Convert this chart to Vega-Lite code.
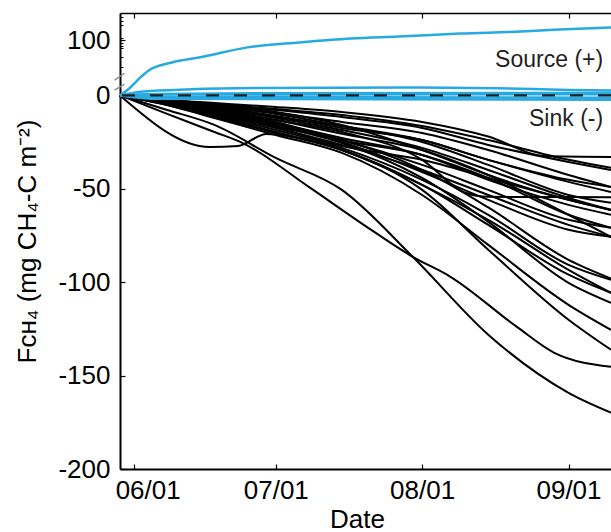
{
  "$schema": "https://vega.github.io/schema/vega-lite/v6.json",
  "width": 491,
  "height": 456,
  "autosize": {"type": "none"},
  "padding": {"left": 120, "top": 13, "right": 0, "bottom": 63},
  "config": {
    "font": "Liberation Sans",
    "view": {"stroke": null},
    "axis": {"domainColor": "#000", "domainWidth": 2, "tickColor": "#000", "tickWidth": 1.2, "labelColor": "#000", "titleColor": "#000", "grid": false, "labelFontSize": 26, "titleFontSize": 26, "titleFontWeight": "normal", "labelFont": "Liberation Sans", "titleFont": "Liberation Sans"}
  },
  "resolve": {"axis": {"x": "independent", "y": "independent"}},
  "datasets": {
    "black": [
      {"id":1,"date":"2014-05-29","v":0},{"id":1,"date":"2014-06-08","v":-2.5},{"id":1,"date":"2014-06-18","v":-4.1},{"id":1,"date":"2014-07-01","v":-6.2},{"id":1,"date":"2014-07-15","v":-8.9},{"id":1,"date":"2014-08-01","v":-14.2},{"id":1,"date":"2014-08-15","v":-22},{"id":1,"date":"2014-08-27","v":-32.5},{"id":1,"date":"2014-09-10","v":-33},
      {"id":2,"date":"2014-05-29","v":0},{"id":2,"date":"2014-06-08","v":-2.5},{"id":2,"date":"2014-06-18","v":-4.6},{"id":2,"date":"2014-07-01","v":-7.3},{"id":2,"date":"2014-07-15","v":-10.5},{"id":2,"date":"2014-08-01","v":-16.4},{"id":2,"date":"2014-08-15","v":-23.9},{"id":2,"date":"2014-09-01","v":-34.5},{"id":2,"date":"2014-09-10","v":-38.8},
      {"id":3,"date":"2014-05-29","v":0},{"id":3,"date":"2014-06-08","v":-3.0},{"id":3,"date":"2014-06-18","v":-5.7},{"id":3,"date":"2014-07-01","v":-9.4},{"id":3,"date":"2014-07-15","v":-14.2},{"id":3,"date":"2014-08-01","v":-20.1},{"id":3,"date":"2014-08-15","v":-29.2},{"id":3,"date":"2014-09-01","v":-42.6},{"id":3,"date":"2014-09-10","v":-49.0},
      {"id":4,"date":"2014-05-29","v":0},{"id":4,"date":"2014-06-08","v":-3.5},{"id":4,"date":"2014-06-18","v":-6.7},{"id":4,"date":"2014-07-01","v":-11.6},{"id":4,"date":"2014-07-15","v":-16.4},{"id":4,"date":"2014-08-01","v":-23.9},{"id":4,"date":"2014-08-15","v":-34.5},{"id":4,"date":"2014-09-01","v":-46.3},{"id":4,"date":"2014-09-10","v":-51.7},
      {"id":5,"date":"2014-05-29","v":0},{"id":5,"date":"2014-06-08","v":-4.1},{"id":5,"date":"2014-06-18","v":-7.8},{"id":5,"date":"2014-07-01","v":-13.2},{"id":5,"date":"2014-07-15","v":-19.6},{"id":5,"date":"2014-08-01","v":-34.5},{"id":5,"date":"2014-08-10","v":-52},{"id":5,"date":"2014-08-15","v":-54.3},{"id":5,"date":"2014-09-10","v":-54.5},
      {"id":6,"date":"2014-05-29","v":0},{"id":6,"date":"2014-06-08","v":-3.0},{"id":6,"date":"2014-06-18","v":-5.1},{"id":6,"date":"2014-07-01","v":-8.9},{"id":6,"date":"2014-07-15","v":-15.8},{"id":6,"date":"2014-08-01","v":-29.2},{"id":6,"date":"2014-08-15","v":-42.6},{"id":6,"date":"2014-09-01","v":-55.9},{"id":6,"date":"2014-09-10","v":-61.3},
      {"id":7,"date":"2014-05-29","v":0},{"id":7,"date":"2014-06-08","v":-3.5},{"id":7,"date":"2014-06-18","v":-6.7},{"id":7,"date":"2014-07-01","v":-12.1},{"id":7,"date":"2014-07-15","v":-18.5},{"id":7,"date":"2014-08-01","v":-28.1},{"id":7,"date":"2014-08-15","v":-39.9},{"id":7,"date":"2014-09-01","v":-54.9},{"id":7,"date":"2014-09-10","v":-61.3},
      {"id":8,"date":"2014-05-29","v":0},{"id":8,"date":"2014-06-08","v":-4.1},{"id":8,"date":"2014-06-18","v":-8.3},{"id":8,"date":"2014-07-01","v":-15.3},{"id":8,"date":"2014-07-15","v":-23.9},{"id":8,"date":"2014-08-01","v":-37.2},{"id":8,"date":"2014-08-15","v":-50.6},{"id":8,"date":"2014-09-01","v":-66.6},{"id":8,"date":"2014-09-10","v":-70.9},
      {"id":9,"date":"2014-05-29","v":0},{"id":9,"date":"2014-06-08","v":-4.6},{"id":9,"date":"2014-06-18","v":-9.9},{"id":9,"date":"2014-07-01","v":-17.4},{"id":9,"date":"2014-07-15","v":-26.5},{"id":9,"date":"2014-08-01","v":-39.9},{"id":9,"date":"2014-08-15","v":-53.3},{"id":9,"date":"2014-09-01","v":-69.3},{"id":9,"date":"2014-09-10","v":-75.7},
      {"id":10,"date":"2014-05-29","v":0},{"id":10,"date":"2014-06-08","v":-4.1},{"id":10,"date":"2014-06-18","v":-8.9},{"id":10,"date":"2014-07-01","v":-15.8},{"id":10,"date":"2014-07-15","v":-24.9},{"id":10,"date":"2014-08-01","v":-41.0},{"id":10,"date":"2014-08-15","v":-55.9},{"id":10,"date":"2014-09-01","v":-71.9},{"id":10,"date":"2014-09-10","v":-75.7},
      {"id":11,"date":"2014-05-29","v":0},{"id":11,"date":"2014-06-08","v":-4.6},{"id":11,"date":"2014-06-18","v":-10.5},{"id":11,"date":"2014-07-01","v":-18.5},{"id":11,"date":"2014-07-15","v":-28.1},{"id":11,"date":"2014-08-01","v":-45.2},{"id":11,"date":"2014-08-15","v":-63.9},{"id":11,"date":"2014-09-01","v":-90.7},{"id":11,"date":"2014-09-10","v":-98.7},
      {"id":12,"date":"2014-05-29","v":0},{"id":12,"date":"2014-06-08","v":-5.1},{"id":12,"date":"2014-06-18","v":-11.6},{"id":12,"date":"2014-07-01","v":-20.1},{"id":12,"date":"2014-07-15","v":-29.2},{"id":12,"date":"2014-08-01","v":-47.9},{"id":12,"date":"2014-08-15","v":-69.3},{"id":12,"date":"2014-09-01","v":-96.0},{"id":12,"date":"2014-09-10","v":-105.7},
      {"id":13,"date":"2014-05-29","v":0},{"id":13,"date":"2014-06-08","v":-4.1},{"id":13,"date":"2014-06-18","v":-8.9},{"id":13,"date":"2014-07-01","v":-16.4},{"id":13,"date":"2014-07-15","v":-25.5},{"id":13,"date":"2014-08-01","v":-44.2},{"id":13,"date":"2014-08-15","v":-67.7},{"id":13,"date":"2014-09-01","v":-100.3},{"id":13,"date":"2014-09-10","v":-111.0},
      {"id":14,"date":"2014-05-29","v":0},{"id":14,"date":"2014-06-08","v":-5.1},{"id":14,"date":"2014-06-18","v":-12.1},{"id":14,"date":"2014-07-01","v":-21.2},{"id":14,"date":"2014-07-15","v":-30.8},{"id":14,"date":"2014-08-01","v":-53.3},{"id":14,"date":"2014-08-15","v":-80.0},{"id":14,"date":"2014-09-01","v":-112.1},{"id":14,"date":"2014-09-10","v":-125.5},
      {"id":15,"date":"2014-05-29","v":0},{"id":15,"date":"2014-06-08","v":-4.6},{"id":15,"date":"2014-06-18","v":-11.0},{"id":15,"date":"2014-07-01","v":-19.6},{"id":15,"date":"2014-07-15","v":-29.2},{"id":15,"date":"2014-08-01","v":-50.6},{"id":15,"date":"2014-08-15","v":-82.6},{"id":15,"date":"2014-09-01","v":-120.1},{"id":15,"date":"2014-09-10","v":-136.2},
      {"id":16,"date":"2014-05-29","v":0},{"id":16,"date":"2014-06-08","v":-9.9},{"id":16,"date":"2014-06-18","v":-19.6},{"id":16,"date":"2014-06-24","v":-25.5},{"id":16,"date":"2014-07-08","v":-49.0},{"id":16,"date":"2014-07-19","v":-68.2},{"id":16,"date":"2014-07-30","v":-86.4},{"id":16,"date":"2014-08-07","v":-97.1},{"id":16,"date":"2014-08-21","v":-123.8},{"id":16,"date":"2014-08-29","v":-137.8},{"id":16,"date":"2014-09-10","v":-145.3},
      {"id":17,"date":"2014-05-29","v":0},{"id":17,"date":"2014-06-08","v":-7.8},{"id":17,"date":"2014-06-18","v":-15.8},{"id":17,"date":"2014-07-01","v":-33.5},{"id":17,"date":"2014-07-15","v":-50.6},{"id":17,"date":"2014-07-30","v":-86.4},{"id":17,"date":"2014-08-15","v":-128.1},{"id":17,"date":"2014-09-01","v":-159.2},{"id":17,"date":"2014-09-10","v":-169.8},
      {"id":18,"date":"2014-05-29","v":0},{"id":18,"date":"2014-06-17","v":-27.6},{"id":18,"date":"2014-06-23","v":-27.1},{"id":18,"date":"2014-06-29","v":-20.6},{"id":18,"date":"2014-07-08","v":-23.9},{"id":18,"date":"2014-07-15","v":-29.2},{"id":18,"date":"2014-08-01","v":-47.9},{"id":18,"date":"2014-08-15","v":-66.6},{"id":18,"date":"2014-09-01","v":-93.4},{"id":18,"date":"2014-09-10","v":-105.7},
      {"id":19,"date":"2014-05-29","v":0},{"id":19,"date":"2014-06-08","v":-3.0},{"id":19,"date":"2014-06-18","v":-6.2},{"id":19,"date":"2014-07-01","v":-11.0},{"id":19,"date":"2014-07-15","v":-17.4},{"id":19,"date":"2014-08-01","v":-23.9},{"id":19,"date":"2014-08-15","v":-34.5},{"id":19,"date":"2014-09-01","v":-45.2},{"id":19,"date":"2014-09-10","v":-49.0},
      {"id":20,"date":"2014-05-29","v":0},{"id":20,"date":"2014-06-08","v":-3.5},{"id":20,"date":"2014-06-18","v":-7.8},{"id":20,"date":"2014-07-01","v":-14.2},{"id":20,"date":"2014-07-15","v":-23.9},{"id":20,"date":"2014-08-01","v":-31.9},{"id":20,"date":"2014-08-15","v":-45.2},{"id":20,"date":"2014-09-01","v":-58.6},{"id":20,"date":"2014-09-10","v":-63.9},
      {"id":21,"date":"2014-05-29","v":0},{"id":21,"date":"2014-06-08","v":-4.6},{"id":21,"date":"2014-06-18","v":-9.4},{"id":21,"date":"2014-07-01","v":-17.4},{"id":21,"date":"2014-07-15","v":-27.1},{"id":21,"date":"2014-08-01","v":-34.5},{"id":21,"date":"2014-08-15","v":-44.2},{"id":21,"date":"2014-09-01","v":-55.9},{"id":21,"date":"2014-09-10","v":-61.3},
      {"id":22,"date":"2014-05-29","v":0},{"id":22,"date":"2014-06-08","v":-4.1},{"id":22,"date":"2014-06-18","v":-7.8},{"id":22,"date":"2014-07-01","v":-14.8},{"id":22,"date":"2014-07-15","v":-22.8},{"id":22,"date":"2014-08-01","v":-31.9},{"id":22,"date":"2014-08-15","v":-44.2},{"id":22,"date":"2014-09-01","v":-63.9},{"id":22,"date":"2014-09-10","v":-70.9},
      {"id":23,"date":"2014-05-29","v":0},{"id":23,"date":"2014-06-08","v":-3.5},{"id":23,"date":"2014-06-18","v":-7.3},{"id":23,"date":"2014-07-01","v":-13.2},{"id":23,"date":"2014-07-15","v":-20.6},{"id":23,"date":"2014-08-01","v":-29.2},{"id":23,"date":"2014-08-15","v":-42.6},{"id":23,"date":"2014-09-01","v":-63.9},{"id":23,"date":"2014-09-10","v":-75.7},
      {"id":24,"date":"2014-05-29","v":0},{"id":24,"date":"2014-06-08","v":-4.6},{"id":24,"date":"2014-06-18","v":-9.9},{"id":24,"date":"2014-07-01","v":-16.9},{"id":24,"date":"2014-07-15","v":-23.9},{"id":24,"date":"2014-08-01","v":-39.9},{"id":24,"date":"2014-08-15","v":-60},{"id":24,"date":"2014-09-01","v":-88},{"id":24,"date":"2014-09-10","v":-98},
      {"id":25,"date":"2014-05-29","v":0},{"id":25,"date":"2014-06-08","v":-3.0},{"id":25,"date":"2014-06-18","v":-5.7},{"id":25,"date":"2014-07-01","v":-9.9},{"id":25,"date":"2014-07-15","v":-16.4},{"id":25,"date":"2014-08-01","v":-24.9},{"id":25,"date":"2014-08-15","v":-37.2},{"id":25,"date":"2014-09-01","v":-53.3},{"id":25,"date":"2014-09-10","v":-57.5},
      {"id":26,"date":"2014-05-29","v":0},{"id":26,"date":"2014-06-08","v":-2.5},{"id":26,"date":"2014-06-18","v":-4.6},{"id":26,"date":"2014-07-01","v":-7.8},{"id":26,"date":"2014-07-15","v":-11.6},{"id":26,"date":"2014-08-01","v":-17.4},{"id":26,"date":"2014-08-15","v":-26.5},{"id":26,"date":"2014-09-01","v":-35.6},{"id":26,"date":"2014-09-10","v":-39.9}
    ],
    "blue": [
      {"id":"s","date":"2014-05-29","v":0},{"id":"s","date":"2014-05-31","v":13},{"id":"s","date":"2014-06-02","v":30},{"id":"s","date":"2014-06-04","v":45},{"id":"s","date":"2014-06-09","v":60},{"id":"s","date":"2014-06-15","v":69.3},{"id":"s","date":"2014-06-25","v":87.4},{"id":"s","date":"2014-07-06","v":96.4},{"id":"s","date":"2014-07-17","v":103.6},{"id":"s","date":"2014-07-27","v":107.2},{"id":"s","date":"2014-08-09","v":112.6},{"id":"s","date":"2014-08-22","v":116.2},{"id":"s","date":"2014-08-30","v":119.9},{"id":"s","date":"2014-09-10","v":123.5},
      {"id":"t","date":"2014-05-29","v":0},{"id":"t","date":"2014-06-03","v":7},{"id":"t","date":"2014-06-13","v":11},{"id":"t","date":"2014-06-28","v":13.5},{"id":"t","date":"2014-07-28","v":14.5},{"id":"t","date":"2014-08-17","v":13},{"id":"t","date":"2014-09-01","v":10},{"id":"t","date":"2014-09-10","v":9},
      {"id":"b1","date":"2014-05-29","v":0},{"id":"b1","date":"2014-06-06","v":2.5},{"id":"b1","date":"2014-06-28","v":4},{"id":"b1","date":"2014-09-10","v":4.5},
      {"id":"b2","date":"2014-05-29","v":0},{"id":"b2","date":"2014-06-06","v":1.5},{"id":"b2","date":"2014-09-10","v":2},
      {"id":"b3","date":"2014-05-29","v":0},{"id":"b3","date":"2014-06-06","v":-0.8},{"id":"b3","date":"2014-09-10","v":-1.2},
      {"id":"b4","date":"2014-05-29","v":0},{"id":"b4","date":"2014-06-06","v":-1.8},{"id":"b4","date":"2014-09-10","v":-2.3}
    ],
    "labels": [
      {"date":"2014-09-08T08:00Z","v":51.8,"label":"Source (+)"},
      {"date":"2014-09-08T08:00Z","v":-16.4,"label":"Sink (-)"}
    ],
    "breaks": [
      {"d1":"2014-05-27T20:00Z","d2":"2014-05-29T23:00Z","v1":27.8,"v2":40.4},
      {"d1":"2014-05-27T20:00Z","d2":"2014-05-29T23:00Z","v1":9.7,"v2":20.6}
    ]
  },
  "layer": [
    {
      "data": {"name": "black"},
      "mark": {"type": "line", "color": "#000", "strokeWidth": 2, "interpolate": "monotone"},
      "encoding": {
        "x": {"field": "date", "type": "temporal",
          "scale": {"type": "utc", "domain": [{"year":2014,"month":5,"date":29,"utc":true},{"year":2014,"month":9,"date":10,"utc":true}]},
          "axis": {"orient": "bottom", "values": [{"year":2014,"month":6,"date":1,"utc":true},{"year":2014,"month":7,"date":1,"utc":true},{"year":2014,"month":8,"date":1,"utc":true},{"year":2014,"month":9,"date":1,"utc":true}],
            "format": "%m/%d", "tickSize": -5, "labelPadding": 13, "labelFlush": 16, "labelFlushOffset": 19,
            "title": "Date", "titleX": 237, "titleY": 58, "titleBaseline": "alphabetic"}},
        "y": {"field": "v", "type": "quantitative",
          "scale": {"domain": [-200, 0, 150], "range": [456, 82.4, 0], "nice": false, "zero": false},
          "axis": {"orient": "left", "values": [-200, -150, -100, -50, 0, 100], "labelExpr": "replace(datum.label, '\u2212', '-')",
            "tickSize": -5, "labelPadding": 15, "title": "Fᴄʜ₄ (mg CH₄-C m⁻²)", "titleX": -85, "titleBaseline": "alphabetic"}},
        "detail": {"field": "id"}
      }
    },
    {
      "data": {"name": "blue"},
      "mark": {"type": "line", "color": "#27a9e1", "strokeWidth": 2.5, "interpolate": "monotone"},
      "encoding": {
        "x": {"field": "date", "type": "temporal", "scale": {"type": "utc", "domain": [{"year":2014,"month":5,"date":29,"utc":true},{"year":2014,"month":9,"date":10,"utc":true}]}, "axis": null},
        "y": {"field": "v", "type": "quantitative", "scale": {"domain": [-200, 0, 150], "range": [456, 82.4, 0], "nice": false, "zero": false},
          "axis": {"orient": "left", "labels": false, "title": null, "domain": false, "tickSize": -3, "tickWidth": 1,
            "values": [143.3, 136.1, 128.9, 103.6, 94.6, 90.1, 85.6, 69.3, 51.3]}},
        "detail": {"field": "id"}
      }
    },
    {
      "data": {"values": [{}]},
      "mark": {"type": "rule", "color": "#231f20", "strokeWidth": 2.2, "strokeDash": [13, 15]},
      "encoding": {
        "y": {"datum": 0, "type": "quantitative", "scale": {"domain": [-200, 0, 150], "range": [456, 82.4, 0], "nice": false, "zero": false}, "axis": null}
      }
    },
    {
      "data": {"name": "breaks"},
      "mark": {"type": "rule", "color": "#8c8c8c", "strokeWidth": 1.3, "clip": false},
      "encoding": {
        "x": {"field": "d1", "type": "temporal", "scale": {"type": "utc", "domain": [{"year":2014,"month":5,"date":29,"utc":true},{"year":2014,"month":9,"date":10,"utc":true}]}, "axis": null},
        "x2": {"field": "d2"},
        "y": {"field": "v1", "type": "quantitative", "scale": {"domain": [-200, 0, 150], "range": [456, 82.4, 0], "nice": false, "zero": false}, "axis": null},
        "y2": {"field": "v2"}
      }
    },
    {
      "data": {"name": "labels"},
      "mark": {"type": "text", "align": "right", "baseline": "alphabetic", "fontSize": 23, "color": "#231f20"},
      "encoding": {
        "x": {"field": "date", "type": "temporal", "scale": {"type": "utc", "domain": [{"year":2014,"month":5,"date":29,"utc":true},{"year":2014,"month":9,"date":10,"utc":true}]},
          "axis": {"orient": "top", "labels": false, "title": null, "tickSize": -5, "domainWidth": 1.5,
            "values": [{"year":2014,"month":6,"date":1,"utc":true},{"year":2014,"month":7,"date":1,"utc":true},{"year":2014,"month":8,"date":1,"utc":true},{"year":2014,"month":9,"date":1,"utc":true}]}},
        "y": {"field": "v", "type": "quantitative", "scale": {"domain": [-200, 0, 150], "range": [456, 82.4, 0], "nice": false, "zero": false}, "axis": null},
        "text": {"field": "label"}
      }
    }
  ]
}
